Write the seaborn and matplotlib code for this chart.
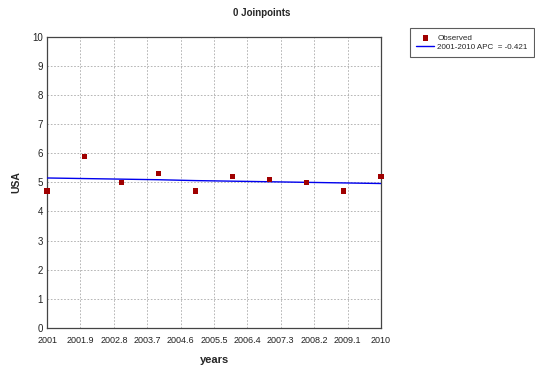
import numpy as np
import pandas as pd
import matplotlib
matplotlib.use("Agg")
import matplotlib.pyplot as plt
import seaborn as sns

years = [2001, 2002, 2003, 2004, 2005, 2006, 2007, 2008, 2009, 2010]
observed = [4.7, 5.9, 5.0, 5.3, 4.7, 5.2, 5.1, 5.0, 4.7, 5.2]
fitted = [5.15, 5.13, 5.11, 5.09, 5.06, 5.04, 5.02, 5.00, 4.98, 4.96]
x_ticks = [2001, 2001.9, 2002.8, 2003.7, 2004.6, 2005.5, 2006.4, 2007.3, 2008.2, 2009.1, 2010]
y_ticks = list(range(0, 11))

df = pd.DataFrame({"years": years, "observed": observed, "fitted": fitted})

sns.set_theme(style="white")
plt.rcParams['font.family'] = ['Liberation Sans', 'DejaVu Sans']

fig = plt.figure(figsize=(5.35, 3.68), dpi=100)
ax = fig.add_axes([0.088, 0.109, 0.624, 0.791])

sns.lineplot(data=df, x="years", y="fitted", ax=ax, color="#0000ee", lw=1.0,
             label="2001-2010 APC  = -0.421", zorder=3)
sns.scatterplot(data=df, x="years", y="observed", ax=ax, marker="s", color="#a00000",
                s=14, edgecolor="none", label="Observed", zorder=4, clip_on=False)

ax.set_xlim(2001, 2010)
ax.set_ylim(0, 10)
ax.set_xticks(x_ticks)
ax.set_xticklabels([f"{t:g}" for t in x_ticks], fontsize=6.5)
ax.set_yticks(y_ticks)
ax.set_yticklabels([str(t) for t in y_ticks], fontsize=7)
ax.tick_params(axis="x", length=0, pad=6, colors="#222222")
ax.tick_params(axis="y", length=0, pad=3, colors="#222222")
ax.grid(True, color="#aaaaaa", linestyle=(0, (2, 2)), lw=0.6)
for sp in ax.spines.values():
    sp.set_color("#444444")
    sp.set_linewidth(0.9)

ax.set_xlabel("years", fontsize=8, fontweight="bold", labelpad=7)
ax.set_ylabel("USA", fontsize=7.5, fontweight="bold", labelpad=8)
fig.text(0.49, 0.965, "0 Joinpoints", ha="center", va="center", fontsize=7, fontweight="bold")

h, l = ax.get_legend_handles_labels()
ax.get_legend().remove()
leg = fig.legend(h[::-1], l[::-1], loc="upper left", bbox_to_anchor=(0.766, 0.924),
                 fontsize=5.8, frameon=True, fancybox=False, edgecolor="#333333",
                 handlelength=2.2, borderpad=0.8, labelspacing=0.15, handletextpad=0.4,
                 borderaxespad=0)
leg.get_frame().set_linewidth(0.8)

fig.savefig("out.png", dpi=100)
